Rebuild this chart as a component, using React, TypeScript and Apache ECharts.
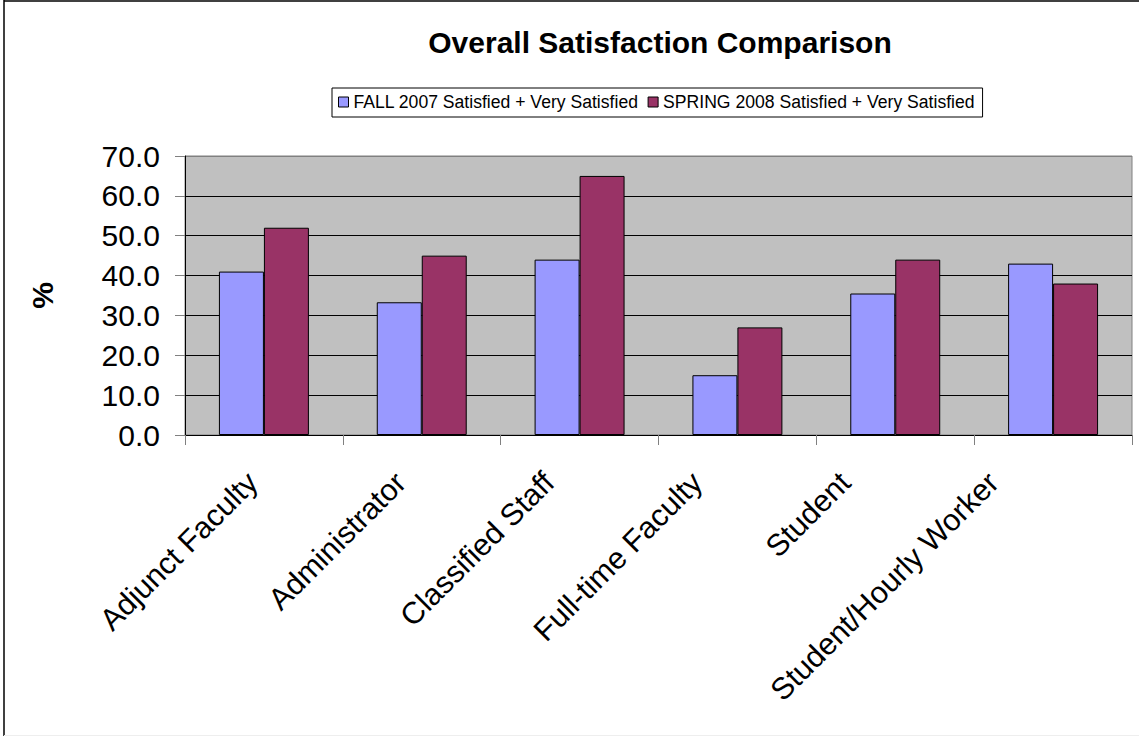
import React, { useEffect, useRef } from "react";
import * as echarts from "echarts";

const categories = [
  "Adjunct Faculty",
  "Administrator",
  "Classified Staff",
  "Full-time Faculty",
  "Student",
  "Student/Hourly Worker",
];
const seriesNames = [
  "FALL 2007 Satisfied + Very Satisfied",
  "SPRING 2008 Satisfied + Very Satisfied",
];
const fall2007 = [41.0, 33.3, 44.0, 15.0, 35.5, 43.0];
const spring2008 = [52.0, 45.0, 65.0, 27.0, 44.0, 38.0];
const yMin = 0;
const yMax = 70;
const yInterval = 10;
const titleText = "Overall Satisfaction Comparison";
const yName = "%";

const FONT = '"Liberation Sans", Arial, sans-serif';

export default function App() {
  const ref = useRef<HTMLDivElement>(null);
  useEffect(() => {
    document.body.style.margin = "0";
    if (!ref.current) return;
    const chart = echarts.init(ref.current, null, { renderer: "svg" });
    chart.setOption({
      animation: false,
      backgroundColor: "#ffffff",
      textStyle: { fontFamily: FONT },
      title: {
        text: titleText,
        left: 655,
        textAlign: "center",
        top: 22,
        textStyle: { fontSize: 30, fontWeight: "bold", color: "#000", fontFamily: FONT },
      },
      legend: {
        data: seriesNames,
        left: 332,
        top: 88,
        orient: "horizontal",
        icon: "rect",
        itemWidth: 10,
        itemHeight: 10,
        itemGap: 9,
        borderColor: "#000",
        borderWidth: 1,
        borderRadius: 0,
        backgroundColor: "#fff",
        padding: [5, 8, 6, 6],
        itemStyle: { borderColor: "#000", borderWidth: 1 },
        textStyle: { fontSize: 17.6, color: "#000", fontFamily: FONT },
      },
      grid: [
        {
          left: 185,
          right: 7,
          top: 156,
          bottom: 301,
          show: true,
          backgroundColor: "#C0C0C0",
          borderColor: "#808080",
          borderWidth: 1,
        },
        {
          left: 178,
          right: 72,
          top: 156,
          bottom: 301,
          show: false,
        },
      ],
      xAxis: [
        {
          type: "category",
          gridIndex: 0,
          data: categories,
          axisLine: { show: true, lineStyle: { color: "#000", width: 1 } },
          axisTick: { show: true, length: 10, lineStyle: { color: "#808080" } },
          axisLabel: { show: false },
          splitLine: { show: false },
        },
        {
          type: "category",
          gridIndex: 1,
          data: categories,
          axisLine: { show: false },
          axisTick: { show: false },
          splitLine: { show: false },
          axisLabel: {
            show: true,
            interval: 0,
            rotate: 45,
            margin: 42,
            fontSize: 30.5,
            color: "#000",
            fontFamily: FONT,
          },
        },
      ],
      yAxis: [
        {
          type: "value",
          gridIndex: 0,
          min: yMin,
          max: yMax,
          interval: yInterval,
          name: yName,
          nameLocation: "middle",
          nameRotate: 90,
          nameGap: 128,
          nameTextStyle: { fontSize: 30, fontWeight: "bold", color: "#000", fontFamily: FONT },
          axisLine: { show: true, lineStyle: { color: "#000", width: 1 } },
          axisTick: { show: true, length: 10, lineStyle: { color: "#808080" } },
          axisLabel: {
            margin: 25,
            fontSize: 30,
            color: "#000",
            fontFamily: FONT,
            formatter: (v: number) => v.toFixed(1),
          },
          splitLine: {
            show: true,
            lineStyle: {
              color: ["#000", "#000", "#000", "#000", "#000", "#000", "#000", "#808080"],
              width: 1,
            },
          },
        },
        {
          type: "value",
          gridIndex: 1,
          min: 0,
          max: 1,
          show: false,
        },
      ],
      series: [
        {
          name: seriesNames[0],
          type: "bar",
          xAxisIndex: 0,
          yAxisIndex: 0,
          data: fall2007,
          barGap: "0%",
          barCategoryGap: "43%",
          itemStyle: { color: "#9999FF", borderColor: "#000", borderWidth: 1 },
        },
        {
          name: seriesNames[1],
          type: "bar",
          xAxisIndex: 0,
          yAxisIndex: 0,
          data: spring2008,
          barGap: "0%",
          barCategoryGap: "43%",
          itemStyle: { color: "#993366", borderColor: "#000", borderWidth: 1 },
        },
      ],
      graphic: [
        { type: "line", shape: { x1: 4, y1: 0, x2: 4, y2: 736 }, style: { stroke: "#000", lineWidth: 1.5 } },
        { type: "line", shape: { x1: 4, y1: 1, x2: 1139, y2: 1 }, style: { stroke: "#000", lineWidth: 1.5 } },
        { type: "line", shape: { x1: 4, y1: 735.5, x2: 1139, y2: 735.5 }, style: { stroke: "#eeeeee", lineWidth: 1 } },
      ],
    });
    return () => chart.dispose();
  }, []);
  return <div ref={ref} style={{ width: 1139, height: 736 }} />;
}
